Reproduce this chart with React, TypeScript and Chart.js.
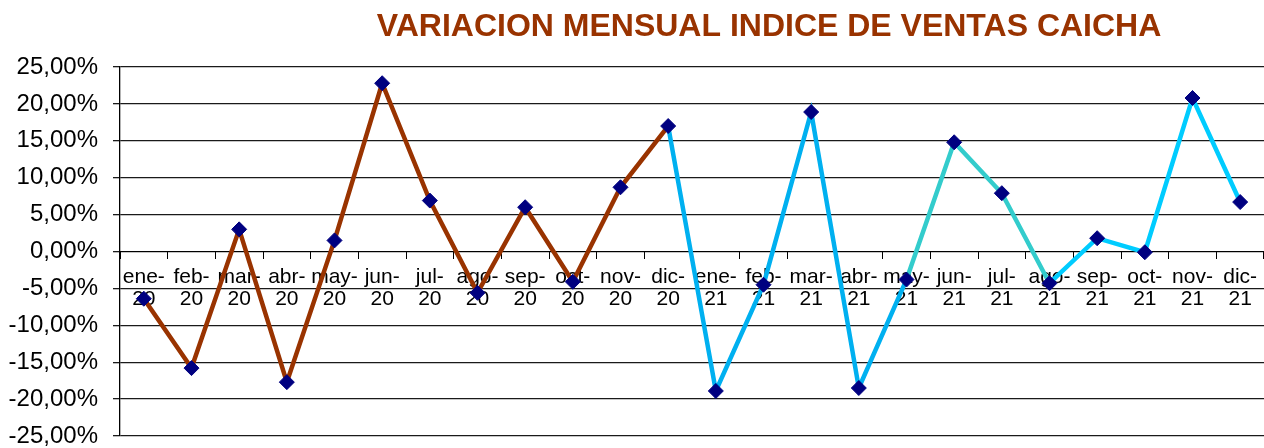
import React, { useEffect, useRef } from 'react';
import { Chart, registerables } from 'chart.js';

Chart.register(...registerables);

const TITLE = 'VARIACION MENSUAL INDICE DE VENTAS CAICHA';

const CATEGORIES: string[][] = [
  ['ene-', '20'], ['feb-', '20'], ['mar-', '20'], ['abr-', '20'], ['may-', '20'], ['jun-', '20'],
  ['jul-', '20'], ['ago-', '20'], ['sep-', '20'], ['oct-', '20'], ['nov-', '20'], ['dic-', '20'],
  ['ene-', '21'], ['feb-', '21'], ['mar-', '21'], ['abr-', '21'], ['may-', '21'], ['jun-', '21'],
  ['jul-', '21'], ['ago-', '21'], ['sep-', '21'], ['oct-', '21'], ['nov-', '21'], ['dic-', '21'],
];

// monthly variation, in percent
const VARIATION: number[] = [
  -6.4, -15.8, 3.0, -17.7, 1.5, 22.8, 6.9, -5.6, 6.0, -4.1, 8.7, 17.0,
  -18.9, -4.5, 18.9, -18.5, -3.8, 14.8, 7.9, -4.3, 1.8, -0.1, 20.8, 6.7,
];

const Y_MIN = -25;
const Y_MAX = 25;
const Y_STEP = 5;

// segment colour by index of the starting point
const segmentColor = (i: number): string => {
  if (i <= 10) return '#993300';
  if (i <= 15) return '#00B0F0';
  if (i <= 18) return '#33CCCC';
  return '#00CCFF';
};

const titlePlugin = {
  id: 'customTitle',
  afterDraw(chart: any) {
    const ctx = chart.ctx;
    ctx.save();
    ctx.font = 'bold 32px "Liberation Sans", Arial, sans-serif';
    ctx.fillStyle = '#993300';
    ctx.textAlign = 'center';
    ctx.textBaseline = 'alphabetic';
    ctx.fillText(TITLE, 769, 36);
    ctx.restore();
  },
};

export default function App() {
  const ref = useRef<HTMLCanvasElement | null>(null);

  useEffect(() => {
    if (!ref.current) return;
    const chart = new Chart(ref.current, {
      type: 'line',
      data: {
        labels: CATEGORIES,
        datasets: [
          {
            data: VARIATION,
            borderWidth: 4.5,
            borderColor: '#993300',
            tension: 0,
            pointStyle: 'rectRot',
            pointRadius: 7.5,
            pointHoverRadius: 7.5,
            pointBackgroundColor: '#000080',
            pointBorderColor: '#000080',
            pointBorderWidth: 1,
            segment: {
              borderColor: (c: any) => segmentColor(c.p0DataIndex),
            },
          },
        ],
      },
      options: {
        responsive: false,
        animation: false,
        layout: { autoPadding: false, padding: { top: 67, bottom: 12, left: 0, right: 0 } },
        plugins: {
          legend: { display: false },
          title: { display: false },
          tooltip: { enabled: false },
        },
        scales: {
          x: {
            type: 'category',
            position: { y: 0 } as any,
            offset: true,
            afterFit: (scale: any) => {
              scale.height = 0;
              scale.paddingLeft = 0;
              scale.paddingRight = 0;
              scale.paddingTop = 0;
              scale.paddingBottom = 0;
            },
            grid: {
              offset: true,
              drawOnChartArea: false,
              drawTicks: true,
              tickLength: 7,
              color: '#000',
              lineWidth: 1,
            },
            border: { display: true, color: '#000', width: 1 },
            ticks: {
              autoSkip: false,
              maxRotation: 0,
              minRotation: 0,
              padding: 8,
              color: '#000',
              font: { family: '"Liberation Sans", Arial, sans-serif', size: 21, lineHeight: 1.05 },
            },
          },
          y: {
            min: Y_MIN,
            max: Y_MAX,
            afterFit: (scale: any) => {
              scale.width = 120;
              scale.paddingTop = 0;
              scale.paddingBottom = 0;
            },
            grid: {
              color: '#1a1a1a',
              lineWidth: 1.3,
              drawTicks: true,
              tickLength: 7,
            },
            border: { display: true, color: '#000', width: 1.3 },
            ticks: {
              stepSize: Y_STEP,
              padding: 15,
              color: '#000',
              font: { family: '"Liberation Sans", Arial, sans-serif', size: 24 },
              callback: (v: any) => Number(v).toFixed(2).replace('.', ',') + '%',
            },
          },
        },
      },
      plugins: [titlePlugin],
    });
    return () => chart.destroy();
  }, []);

  return (
    <div style={{ position: 'absolute', left: 0, top: 0, width: 1264, height: 448, background: '#fff' }}>
      <canvas ref={ref} width={1264} height={448} style={{ display: 'block' }} />
    </div>
  );
}
